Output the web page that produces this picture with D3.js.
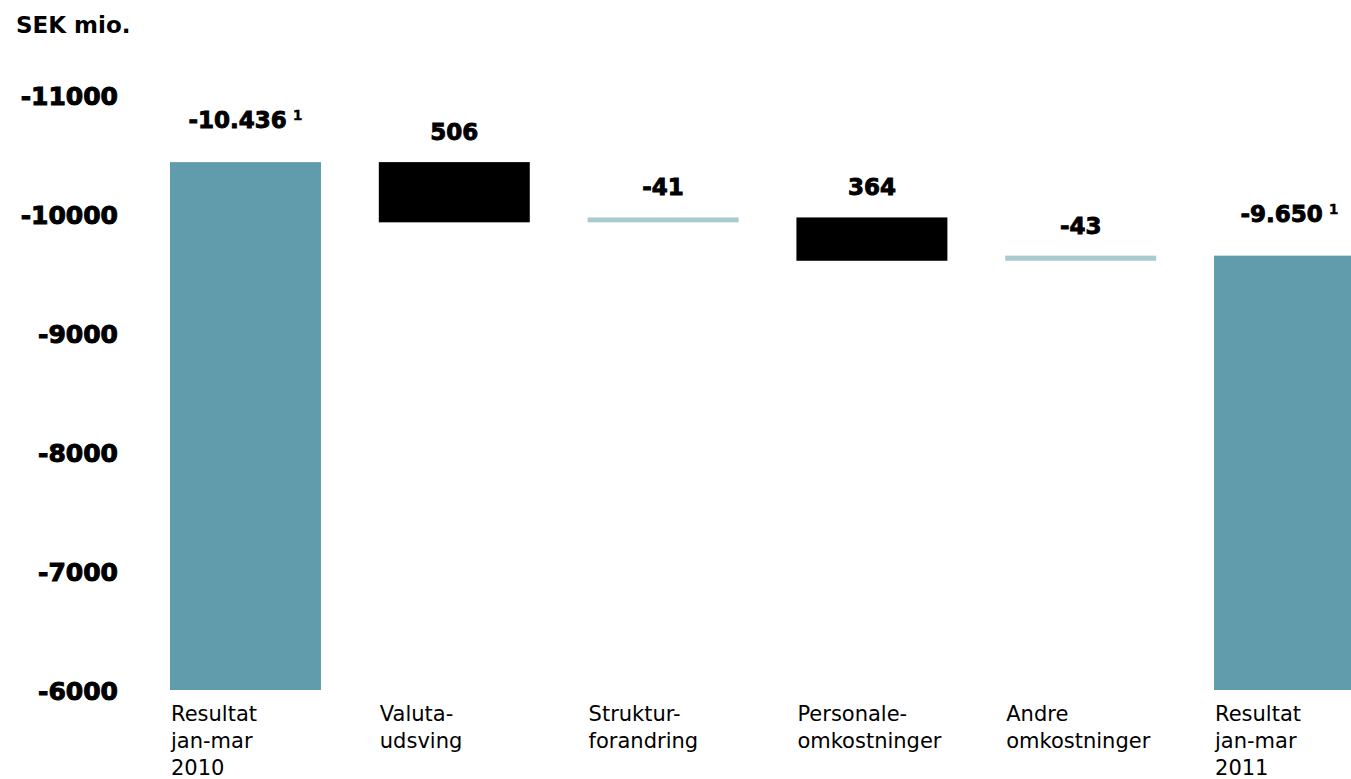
<!DOCTYPE html>
<html>
<head>
<meta charset="utf-8">
<script src="https://cdn.jsdelivr.net/npm/d3@7"></script>
<style>
  body { margin: 0; background: #fff; }
  .tick-lbl { font-family: "DejaVu Sans", sans-serif; font-weight: bold; }
</style>
</head>
<body>
<div id="chart-area"></div>
<script>
// data
var categories = [
  ["Resultat", "jan-mar", "2010"],
  ["Valuta-", "udsving"],
  ["Struktur-", "forandring"],
  ["Personale-", "omkostninger"],
  ["Andre", "omkostninger"],
  ["Resultat", "jan-mar", "2011"]
];
var kinds = ["total", "up", "down", "up", "down", "total"];
var values = [-10436, 506, -41, 364, -43, -9650];
var valueLabels = ["-10.436", "506", "-41", "364", "-43", "-9.650"];
var footnotes = ["1", "", "", "", "", "1"];
var yTicks = [-11000, -10000, -9000, -8000, -7000, -6000];

var width = 1351, height = 779;

var svg = d3.select("#chart-area")
  .append("svg")
  .attr("width", width)
  .attr("height", height);

var x = d3.scaleBand()
  .domain(d3.range(categories.length))
  .range([170, 1365])
  .paddingInner(0.277)
  .paddingOuter(0);

var y = d3.scaleLinear()
  .domain([-6000, -11000])
  .range([690, 95]);

// waterfall steps
var steps = [];
var running = 0;
values.forEach((v, i) => {
  if (kinds[i] == "total") {
    steps.push({i: i, from: -6000, to: v});
    running = v;
  } else {
    // positive values reduce the deficit
    var next = running + v;
    steps.push({i: i, from: running, to: next});
    running = next;
  }
});

var colors = {total: "#619cad", up: "#000000", down: "#a7cbcf"};

svg.append("g")
  .selectAll("rect")
  .data(steps)
  .enter()
  .append("rect")
  .attr("x", d => x(d.i))
  .attr("width", x.bandwidth())
  .attr("y", d => Math.min(y(d.from), y(d.to)))
  .attr("height", d => Math.abs(y(d.from) - y(d.to)))
  .attr("fill", d => colors[kinds[d.i]]);

// y axis
var yAxis = d3.axisLeft(y)
  .tickValues(yTicks)
  .tickFormat(d => String(d))
  .tickSize(0)
  .tickPadding(0);
var yAxisGroup = svg.append("g")
  .attr("transform", "translate(118,0)")
  .call(yAxis);
yAxisGroup.select(".domain").remove();
yAxisGroup.selectAll("text")
  .attr("class", "tick-lbl")
  .attr("font-size", "25px")
  .attr("fill", "#000")
  .attr("stroke", "#000")
  .attr("stroke-width", 1)
  .attr("dy", "0.36em");

// value labels
var lbl = svg.append("g")
  .selectAll("text")
  .data(steps)
  .enter()
  .append("text")
  .attr("class", "tick-lbl")
  .attr("x", d => x(d.i) + x.bandwidth() / 2)
  .attr("y", d => Math.min(y(d.from), y(d.to)) - (kinds[d.i] == "total" ? 34 : 22))
  .attr("text-anchor", "middle")
  .attr("font-size", "23px")
  .attr("fill", "#000")
  .attr("stroke", "#000")
  .attr("stroke-width", 0.9);
lbl.append("tspan").text(d => valueLabels[d.i]);
lbl.append("tspan")
  .attr("font-size", "14px")
  .attr("stroke-width", 0.3)
  .attr("dx", "6")
  .attr("dy", "-8")
  .text(d => footnotes[d.i]);

// category labels
var cat = svg.append("g")
  .selectAll("text")
  .data(categories)
  .enter()
  .append("text")
  .attr("x", (d, i) => x(i) + 1)
  .attr("y", 721)
  .attr("font-family", "'DejaVu Sans', sans-serif")
  .attr("font-size", "21px")
  .attr("fill", "#000");
cat.selectAll("tspan")
  .data(d => d)
  .enter()
  .append("tspan")
  .attr("x", function() { return d3.select(this.parentNode).attr("x"); })
  .attr("dy", (d, j) => j == 0 ? 0 : 27)
  .text(d => d);

// unit title
svg.append("text")
  .attr("x", 16)
  .attr("y", 33)
  .attr("font-family", "'DejaVu Sans', sans-serif")
  .attr("font-weight", "bold")
  .attr("font-size", "23px")
  .attr("fill", "#000")
  .text("SEK mio.");
</script>
</body>
</html>
